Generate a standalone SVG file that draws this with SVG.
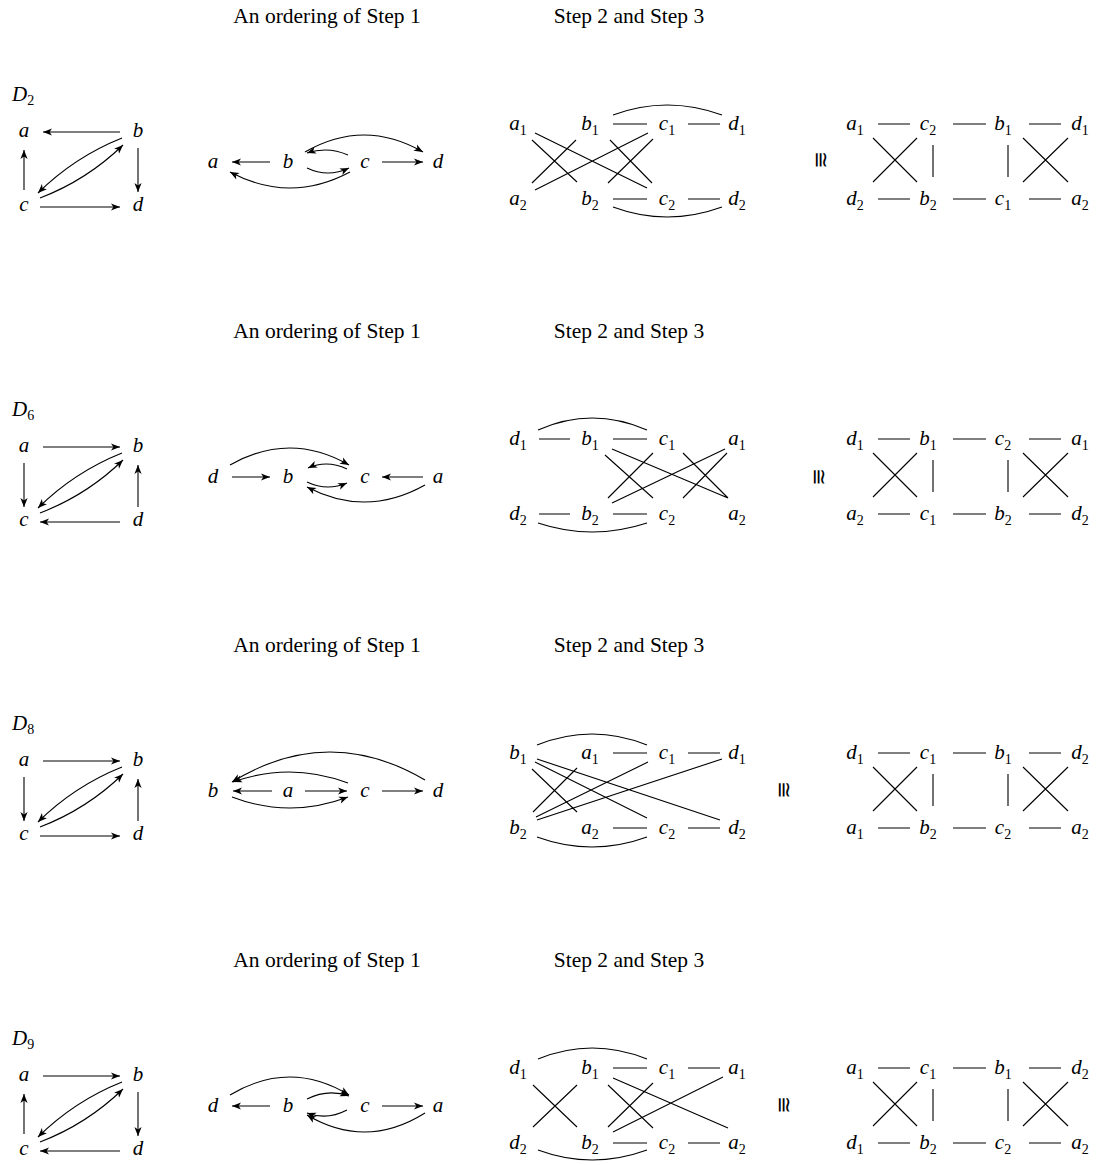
<svg xmlns="http://www.w3.org/2000/svg" width="1104" height="1165" viewBox="0 0 1104 1165">
<style>
text{font-family:"Liberation Serif","Times New Roman",serif;fill:#000}
.l{font-style:italic;font-size:21px;text-anchor:middle}
.s{font-style:normal;font-size:14px}
.t{font-size:21.5px;text-anchor:middle}
.e{fill:none;stroke:#000;stroke-width:1.1}
.cong{font-size:21px;text-anchor:middle}
</style>
<defs>
<marker id="ah" markerUnits="userSpaceOnUse" viewBox="-10 -5 11 10" refX="0" refY="0" markerWidth="11" markerHeight="10" orient="auto">
<path d="M0,0 L-9,-3.6 L-6.6,0 L-9,3.6 Z" fill="#000"/>
</marker>
</defs>

<!-- ===== Panel 1 : D2 ===== -->
<g id="panel1">
<g id="p1-title1"><text class="t" x="327" y="23">An ordering of Step 1</text></g>
<g id="p1-title2"><text class="t" x="629" y="23">Step 2 and Step 3</text></g>
<g id="p1-D"><text class="l" x="12" y="101" style="text-anchor:start">D<tspan class="s" dy="4">2</tspan></text></g>
<g id="p1-g-a"><text class="l" x="24" y="137">a</text></g>
<g id="p1-g-b"><text class="l" x="138" y="137">b</text></g>
<g id="p1-g-c"><text class="l" x="24" y="211">c</text></g>
<g id="p1-g-d"><text class="l" x="138" y="211">d</text></g>
<g id="p1-o-a"><text class="l" x="213" y="168">a</text></g>
<g id="p1-o-b"><text class="l" x="288" y="168">b</text></g>
<g id="p1-o-c"><text class="l" x="365" y="168">c</text></g>
<g id="p1-o-d"><text class="l" x="438" y="168">d</text></g>
<g id="p1-s-a1"><text class="l" x="518" y="130">a<tspan class="s" dy="5">1</tspan></text></g>
<g id="p1-s-b1"><text class="l" x="590" y="130">b<tspan class="s" dy="5">1</tspan></text></g>
<g id="p1-s-c1"><text class="l" x="667" y="130">c<tspan class="s" dy="5">1</tspan></text></g>
<g id="p1-s-d1"><text class="l" x="737" y="130">d<tspan class="s" dy="5">1</tspan></text></g>
<g id="p1-s-a2"><text class="l" x="518" y="205">a<tspan class="s" dy="5">2</tspan></text></g>
<g id="p1-s-b2"><text class="l" x="590" y="205">b<tspan class="s" dy="5">2</tspan></text></g>
<g id="p1-s-c2"><text class="l" x="667" y="205">c<tspan class="s" dy="5">2</tspan></text></g>
<g id="p1-s-d2"><text class="l" x="737" y="205">d<tspan class="s" dy="5">2</tspan></text></g>
<g id="p1-cong"><text class="cong" transform="translate(820,160) rotate(90)" x="0" y="6">≅</text></g>
<g id="p1-f-t1"><text class="l" x="855" y="130">a<tspan class="s" dy="5">1</tspan></text></g>
<g id="p1-f-t2"><text class="l" x="928" y="130">c<tspan class="s" dy="5">2</tspan></text></g>
<g id="p1-f-t3"><text class="l" x="1003" y="130">b<tspan class="s" dy="5">1</tspan></text></g>
<g id="p1-f-t4"><text class="l" x="1080" y="130">d<tspan class="s" dy="5">1</tspan></text></g>
<g id="p1-f-b1"><text class="l" x="855" y="205">d<tspan class="s" dy="5">2</tspan></text></g>
<g id="p1-f-b2"><text class="l" x="928" y="205">b<tspan class="s" dy="5">2</tspan></text></g>
<g id="p1-f-b3"><text class="l" x="1003" y="205">c<tspan class="s" dy="5">1</tspan></text></g>
<g id="p1-f-b4"><text class="l" x="1080" y="205">a<tspan class="s" dy="5">2</tspan></text></g>
<g id="p1-edges" class="e">
<path d="M120,132 L43,132" marker-end="url(#ah)"/>
<path d="M24,190 L24,150" marker-end="url(#ah)"/>
<path d="M138,148 L138,192" marker-end="url(#ah)"/>
<path d="M40,207 L120,207" marker-end="url(#ah)"/>
<path d="M122,138 Q74.5,157 38,193" marker-end="url(#ah)"/>
<path d="M40,198 Q87,180 123,145" marker-end="url(#ah)"/>
<path d="M270,162 L232,162" marker-end="url(#ah)"/>
<path d="M382,162 L423,162" marker-end="url(#ah)"/>
<path d="M305,152 Q364,118 423,152" marker-end="url(#ah)"/>
<path d="M348,155 Q328,146 307,153" marker-end="url(#ah)"/>
<path d="M307,168 Q328,178 349,168" marker-end="url(#ah)"/>
<path d="M350,172 Q290,204 230,172" marker-end="url(#ah)"/>
<path d="M613,124 L647,124 M688,124 L720,124 M613,199 L647,199 M688,199 L720,199"/>
<path d="M613,115 Q667,95 722,115"/>
<path d="M613,207 Q667,227 722,207"/>
<path d="M532,140 L577,182 M535,133 L647,188 M532,183 L576,140 M535,190 L648,133 M610,140 L652,183 M608,183 L653,139"/>
<path d="M878,124 L910,124 M953,124 L986,124 M1029,124 L1061,124 M878,199 L910,199 M953,199 L986,199 M1029,199 L1061,199"/>
<path d="M873,138 L917,182 M873,182 L917,138 M933,145 L933,177 M1008,145 L1008,177 M1023,138 L1068,182 M1023,182 L1068,138"/>
</g>
</g>

<!-- ===== Panel 2 : D6 ===== -->
<g id="panel2" transform="translate(0,315)">
<g id="p2-title1"><text class="t" x="327" y="23">An ordering of Step 1</text></g>
<g id="p2-title2"><text class="t" x="629" y="23">Step 2 and Step 3</text></g>
<g id="p2-D"><text class="l" x="12" y="101" style="text-anchor:start">D<tspan class="s" dy="4">6</tspan></text></g>
<g id="p2-g-a"><text class="l" x="24" y="137">a</text></g>
<g id="p2-g-b"><text class="l" x="138" y="137">b</text></g>
<g id="p2-g-c"><text class="l" x="24" y="211">c</text></g>
<g id="p2-g-d"><text class="l" x="138" y="211">d</text></g>
<g id="p2-o-d"><text class="l" x="213" y="168">d</text></g>
<g id="p2-o-b"><text class="l" x="288" y="168">b</text></g>
<g id="p2-o-c"><text class="l" x="365" y="168">c</text></g>
<g id="p2-o-a"><text class="l" x="438" y="168">a</text></g>
<g id="p2-s-d1"><text class="l" x="518" y="130">d<tspan class="s" dy="5">1</tspan></text></g>
<g id="p2-s-b1"><text class="l" x="590" y="130">b<tspan class="s" dy="5">1</tspan></text></g>
<g id="p2-s-c1"><text class="l" x="667" y="130">c<tspan class="s" dy="5">1</tspan></text></g>
<g id="p2-s-a1"><text class="l" x="737" y="130">a<tspan class="s" dy="5">1</tspan></text></g>
<g id="p2-s-d2"><text class="l" x="518" y="205">d<tspan class="s" dy="5">2</tspan></text></g>
<g id="p2-s-b2"><text class="l" x="590" y="205">b<tspan class="s" dy="5">2</tspan></text></g>
<g id="p2-s-c2"><text class="l" x="667" y="205">c<tspan class="s" dy="5">2</tspan></text></g>
<g id="p2-s-a2"><text class="l" x="737" y="205">a<tspan class="s" dy="5">2</tspan></text></g>
<g id="p2-cong"><text class="cong" transform="translate(818,162) rotate(90)" x="0" y="6">≅</text></g>
<g id="p2-f-t1"><text class="l" x="855" y="130">d<tspan class="s" dy="5">1</tspan></text></g>
<g id="p2-f-t2"><text class="l" x="928" y="130">b<tspan class="s" dy="5">1</tspan></text></g>
<g id="p2-f-t3"><text class="l" x="1003" y="130">c<tspan class="s" dy="5">2</tspan></text></g>
<g id="p2-f-t4"><text class="l" x="1080" y="130">a<tspan class="s" dy="5">1</tspan></text></g>
<g id="p2-f-b1"><text class="l" x="855" y="205">a<tspan class="s" dy="5">2</tspan></text></g>
<g id="p2-f-b2"><text class="l" x="928" y="205">c<tspan class="s" dy="5">1</tspan></text></g>
<g id="p2-f-b3"><text class="l" x="1003" y="205">b<tspan class="s" dy="5">2</tspan></text></g>
<g id="p2-f-b4"><text class="l" x="1080" y="205">d<tspan class="s" dy="5">2</tspan></text></g>
<g id="p2-edges" class="e">
<path d="M43,132 L120,132" marker-end="url(#ah)"/>
<path d="M24,148 L24,192" marker-end="url(#ah)"/>
<path d="M138,192 L138,150" marker-end="url(#ah)"/>
<path d="M120,207 L40,207" marker-end="url(#ah)"/>
<path d="M122,138 Q74.5,157 38,193" marker-end="url(#ah)"/>
<path d="M40,198 Q87,180 123,145" marker-end="url(#ah)"/>
<path d="M232,162 L270,162" marker-end="url(#ah)"/>
<path d="M423,162 L382,162" marker-end="url(#ah)"/>
<path d="M230,150 Q290,116 349,150" marker-end="url(#ah)"/>
<path d="M347,154 Q327,144.5 308,153" marker-end="url(#ah)"/>
<path d="M307,167 Q327,176.5 347,168" marker-end="url(#ah)"/>
<path d="M425,170 Q366,203 307,172" marker-end="url(#ah)"/>
<path d="M539,124 L570,124 M613,124 L647,124 M539,199 L570,199 M613,199 L647,199"/>
<path d="M538,115 Q592,91 647,115"/>
<path d="M538,208 Q592,226 647,208"/>
<path d="M605,140 L653,183 M612,134 L728,183 M608,183 L653,138 M612,188 L725,134 M683,138 L728,183 M683,183 L727,138"/>
<path d="M878,124 L910,124 M953,124 L986,124 M1029,124 L1061,124 M878,199 L910,199 M953,199 L986,199 M1029,199 L1061,199"/>
<path d="M873,138 L917,182 M873,182 L917,138 M933,145 L933,177 M1008,145 L1008,177 M1023,138 L1068,182 M1023,182 L1068,138"/>
</g>
</g>

<!-- ===== Panel 3 : D8 ===== -->
<g id="panel3" transform="translate(0,629)">
<g id="p3-title1"><text class="t" x="327" y="23">An ordering of Step 1</text></g>
<g id="p3-title2"><text class="t" x="629" y="23">Step 2 and Step 3</text></g>
<g id="p3-D"><text class="l" x="12" y="101" style="text-anchor:start">D<tspan class="s" dy="4">8</tspan></text></g>
<g id="p3-g-a"><text class="l" x="24" y="137">a</text></g>
<g id="p3-g-b"><text class="l" x="138" y="137">b</text></g>
<g id="p3-g-c"><text class="l" x="24" y="211">c</text></g>
<g id="p3-g-d"><text class="l" x="138" y="211">d</text></g>
<g id="p3-o-b"><text class="l" x="213" y="168">b</text></g>
<g id="p3-o-a"><text class="l" x="288" y="168">a</text></g>
<g id="p3-o-c"><text class="l" x="365" y="168">c</text></g>
<g id="p3-o-d"><text class="l" x="438" y="168">d</text></g>
<g id="p3-s-b1"><text class="l" x="518" y="130">b<tspan class="s" dy="5">1</tspan></text></g>
<g id="p3-s-a1"><text class="l" x="590" y="130">a<tspan class="s" dy="5">1</tspan></text></g>
<g id="p3-s-c1"><text class="l" x="667" y="130">c<tspan class="s" dy="5">1</tspan></text></g>
<g id="p3-s-d1"><text class="l" x="737" y="130">d<tspan class="s" dy="5">1</tspan></text></g>
<g id="p3-s-b2"><text class="l" x="518" y="205">b<tspan class="s" dy="5">2</tspan></text></g>
<g id="p3-s-a2"><text class="l" x="590" y="205">a<tspan class="s" dy="5">2</tspan></text></g>
<g id="p3-s-c2"><text class="l" x="667" y="205">c<tspan class="s" dy="5">2</tspan></text></g>
<g id="p3-s-d2"><text class="l" x="737" y="205">d<tspan class="s" dy="5">2</tspan></text></g>
<g id="p3-cong"><text class="cong" transform="translate(783,161) rotate(90)" x="0" y="6">≅</text></g>
<g id="p3-f-t1"><text class="l" x="855" y="130">d<tspan class="s" dy="5">1</tspan></text></g>
<g id="p3-f-t2"><text class="l" x="928" y="130">c<tspan class="s" dy="5">1</tspan></text></g>
<g id="p3-f-t3"><text class="l" x="1003" y="130">b<tspan class="s" dy="5">1</tspan></text></g>
<g id="p3-f-t4"><text class="l" x="1080" y="130">d<tspan class="s" dy="5">2</tspan></text></g>
<g id="p3-f-b1"><text class="l" x="855" y="205">a<tspan class="s" dy="5">1</tspan></text></g>
<g id="p3-f-b2"><text class="l" x="928" y="205">b<tspan class="s" dy="5">2</tspan></text></g>
<g id="p3-f-b3"><text class="l" x="1003" y="205">c<tspan class="s" dy="5">2</tspan></text></g>
<g id="p3-f-b4"><text class="l" x="1080" y="205">a<tspan class="s" dy="5">2</tspan></text></g>
<g id="p3-edges" class="e">
<path d="M43,132 L120,132" marker-end="url(#ah)"/>
<path d="M24,148 L24,192" marker-end="url(#ah)"/>
<path d="M138,192 L138,150" marker-end="url(#ah)"/>
<path d="M40,207 L120,207" marker-end="url(#ah)"/>
<path d="M122,138 Q74.5,157 38,193" marker-end="url(#ah)"/>
<path d="M40,198 Q87,180 123,145" marker-end="url(#ah)"/>
<path d="M272,162 L233,162" marker-end="url(#ah)"/>
<path d="M305,162 L347,162" marker-end="url(#ah)"/>
<path d="M382,162 L423,162" marker-end="url(#ah)"/>
<path d="M425,151 Q328,94 232,153" marker-end="url(#ah)"/>
<path d="M348,154 Q290,132.5 233,153" marker-end="url(#ah)"/>
<path d="M232,168 Q290,190 348,168" marker-end="url(#ah)"/>
<path d="M613,124 L647,124 M688,124 L720,124 M613,199 L647,199 M688,199 L720,199"/>
<path d="M537,116 Q592,94 647,116"/>
<path d="M537,208 Q592,228 647,208"/>
<path d="M532,140 L577,183 M535,133 L647,189 M537,130 L720,191 M533,183 L577,139 M536,188 L648,133 M537,191 L722,130"/>
<path d="M878,124 L910,124 M953,124 L986,124 M1029,124 L1061,124 M878,199 L910,199 M953,199 L986,199 M1029,199 L1061,199"/>
<path d="M873,138 L917,182 M873,182 L917,138 M933,145 L933,177 M1008,145 L1008,177 M1023,138 L1068,182 M1023,182 L1068,138"/>
</g>
</g>

<!-- ===== Panel 4 : D9 ===== -->
<g id="panel4" transform="translate(0,944)">
<g id="p4-title1"><text class="t" x="327" y="23">An ordering of Step 1</text></g>
<g id="p4-title2"><text class="t" x="629" y="23">Step 2 and Step 3</text></g>
<g id="p4-D"><text class="l" x="12" y="101" style="text-anchor:start">D<tspan class="s" dy="4">9</tspan></text></g>
<g id="p4-g-a"><text class="l" x="24" y="137">a</text></g>
<g id="p4-g-b"><text class="l" x="138" y="137">b</text></g>
<g id="p4-g-c"><text class="l" x="24" y="211">c</text></g>
<g id="p4-g-d"><text class="l" x="138" y="211">d</text></g>
<g id="p4-o-d"><text class="l" x="213" y="168">d</text></g>
<g id="p4-o-b"><text class="l" x="288" y="168">b</text></g>
<g id="p4-o-c"><text class="l" x="365" y="168">c</text></g>
<g id="p4-o-a"><text class="l" x="438" y="168">a</text></g>
<g id="p4-s-d1"><text class="l" x="518" y="130">d<tspan class="s" dy="5">1</tspan></text></g>
<g id="p4-s-b1"><text class="l" x="590" y="130">b<tspan class="s" dy="5">1</tspan></text></g>
<g id="p4-s-c1"><text class="l" x="667" y="130">c<tspan class="s" dy="5">1</tspan></text></g>
<g id="p4-s-a1"><text class="l" x="737" y="130">a<tspan class="s" dy="5">1</tspan></text></g>
<g id="p4-s-d2"><text class="l" x="518" y="205">d<tspan class="s" dy="5">2</tspan></text></g>
<g id="p4-s-b2"><text class="l" x="590" y="205">b<tspan class="s" dy="5">2</tspan></text></g>
<g id="p4-s-c2"><text class="l" x="667" y="205">c<tspan class="s" dy="5">2</tspan></text></g>
<g id="p4-s-a2"><text class="l" x="737" y="205">a<tspan class="s" dy="5">2</tspan></text></g>
<g id="p4-cong"><text class="cong" transform="translate(783,161) rotate(90)" x="0" y="6">≅</text></g>
<g id="p4-f-t1"><text class="l" x="855" y="130">a<tspan class="s" dy="5">1</tspan></text></g>
<g id="p4-f-t2"><text class="l" x="928" y="130">c<tspan class="s" dy="5">1</tspan></text></g>
<g id="p4-f-t3"><text class="l" x="1003" y="130">b<tspan class="s" dy="5">1</tspan></text></g>
<g id="p4-f-t4"><text class="l" x="1080" y="130">d<tspan class="s" dy="5">2</tspan></text></g>
<g id="p4-f-b1"><text class="l" x="855" y="205">d<tspan class="s" dy="5">1</tspan></text></g>
<g id="p4-f-b2"><text class="l" x="928" y="205">b<tspan class="s" dy="5">2</tspan></text></g>
<g id="p4-f-b3"><text class="l" x="1003" y="205">c<tspan class="s" dy="5">2</tspan></text></g>
<g id="p4-f-b4"><text class="l" x="1080" y="205">a<tspan class="s" dy="5">2</tspan></text></g>
<g id="p4-edges" class="e">
<path d="M43,132 L120,132" marker-end="url(#ah)"/>
<path d="M24,190 L24,150" marker-end="url(#ah)"/>
<path d="M138,148 L138,192" marker-end="url(#ah)"/>
<path d="M120,207 L40,207" marker-end="url(#ah)"/>
<path d="M122,138 Q74.5,157 38,193" marker-end="url(#ah)"/>
<path d="M40,198 Q87,180 123,145" marker-end="url(#ah)"/>
<path d="M270,162 L232,162" marker-end="url(#ah)"/>
<path d="M382,162 L423,162" marker-end="url(#ah)"/>
<path d="M230,151 Q290,115 349,151" marker-end="url(#ah)"/>
<path d="M307,155 Q328,144.5 349,152" marker-end="url(#ah)"/>
<path d="M347,166 Q327,176.5 307,169" marker-end="url(#ah)"/>
<path d="M425,169 Q366,206 307,171" marker-end="url(#ah)"/>
<path d="M613,124 L647,124 M688,124 L720,124 M613,199 L647,199 M688,199 L720,199"/>
<path d="M538,115 Q592,93 647,115"/>
<path d="M538,206 Q592,226 647,206"/>
<path d="M533,141 L577,183 M533,183 L577,141 M608,141 L653,184 M613,134 L728,184 M608,183 L653,139 M613,188 L723,133"/>
<path d="M878,124 L910,124 M953,124 L986,124 M1029,124 L1061,124 M878,199 L910,199 M953,199 L986,199 M1029,199 L1061,199"/>
<path d="M873,138 L917,182 M873,182 L917,138 M933,145 L933,177 M1008,145 L1008,177 M1023,138 L1068,182 M1023,182 L1068,138"/>
</g>
</g>
</svg>
